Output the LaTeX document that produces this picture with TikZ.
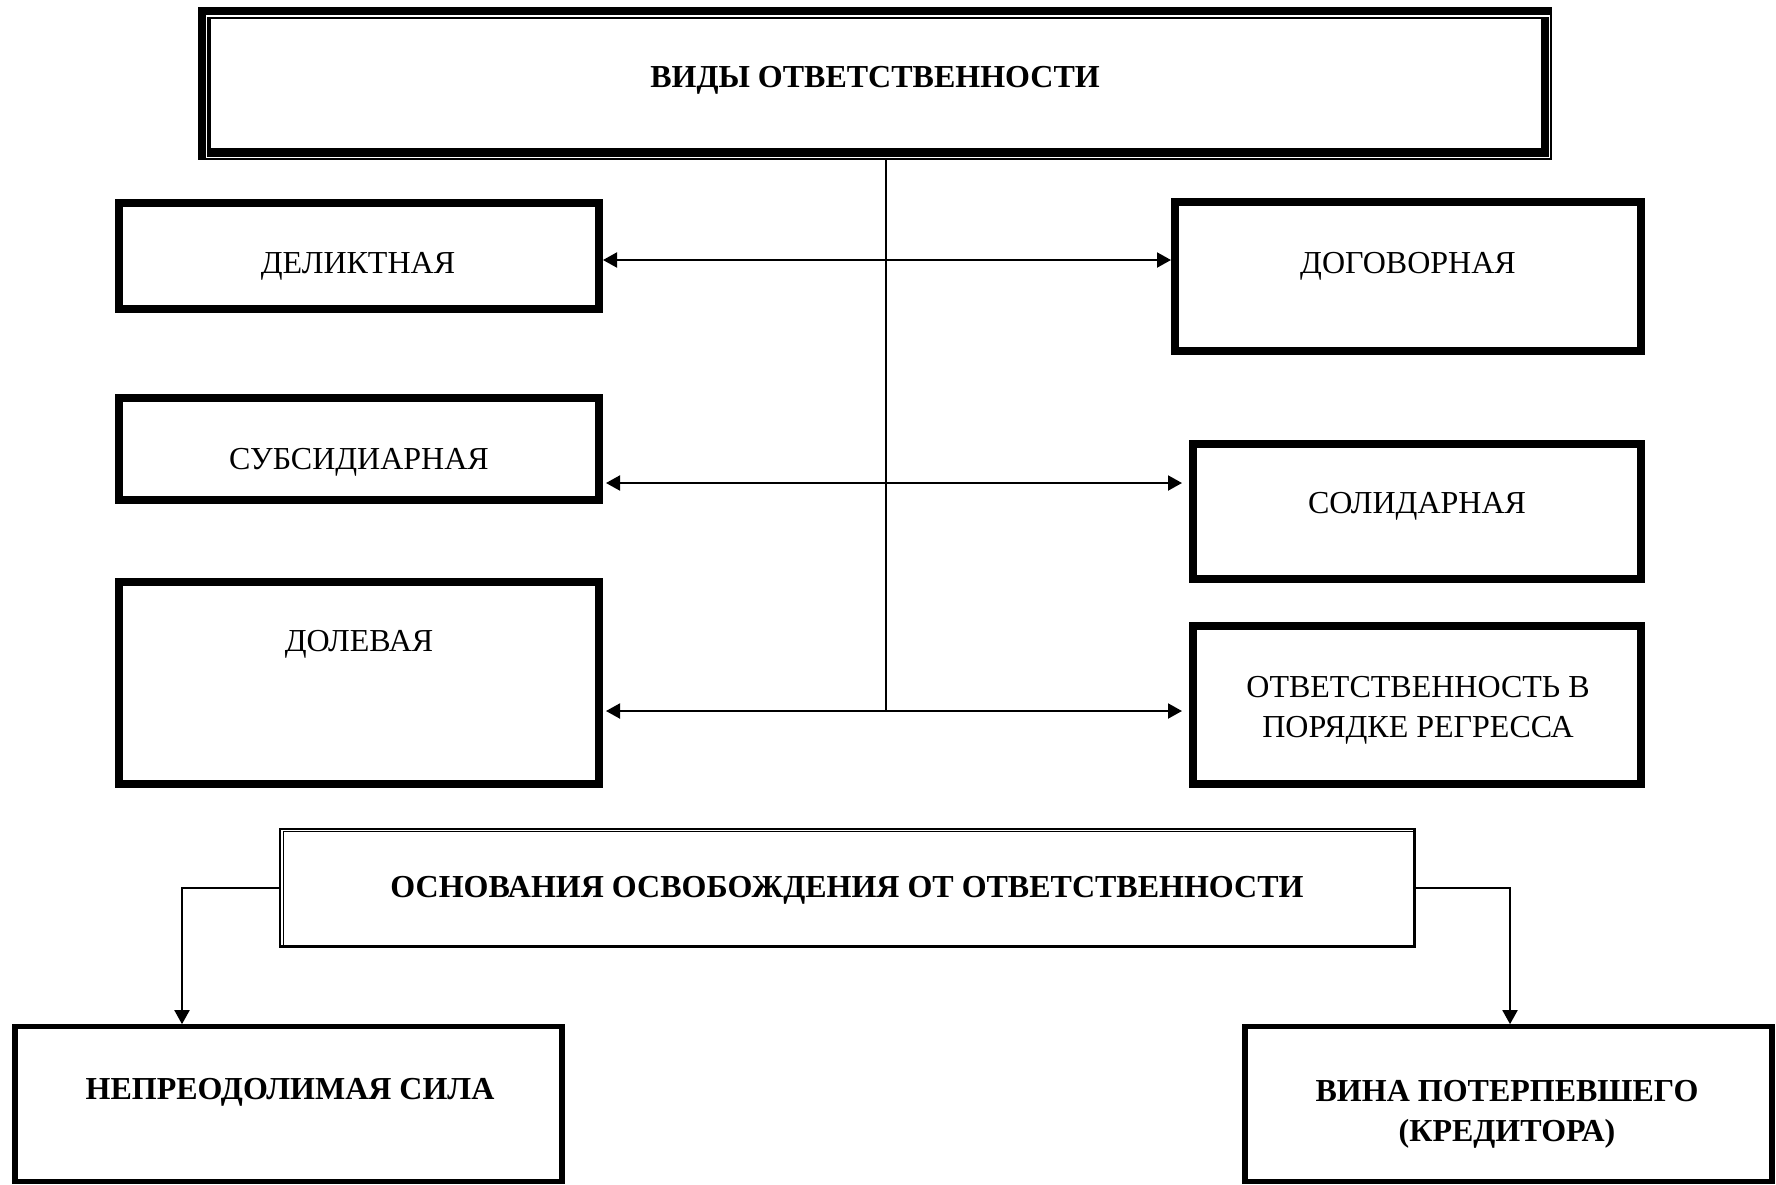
\documentclass[tikz,border=0pt]{standalone}
\usepackage{fontspec}
\setmainfont{Liberation Serif}
\usetikzlibrary{arrows.meta}
\begin{document}
\begin{tikzpicture}[x=0.5pt,y=-0.5pt,
  box/.style={draw, line width=4pt, inner sep=0pt},
  lowbox/.style={draw, line width=2.6pt, inner sep=0pt},
  lbl/.style={inner sep=0pt, anchor=base, align=center, font=\fontsize{16}{20}\selectfont},
  blbl/.style={inner sep=0pt, anchor=base, align=center, font=\fontsize{16}{20}\selectfont\bfseries},
  conn/.style={line width=1pt},
  >={Triangle[length=7pt,width=7.5pt]}]
\useasboundingbox (0,0) rectangle (1776,1184);

% top box
\node[fill=black, inner sep=0pt, outer sep=0pt, minimum width=677pt, minimum height=76.5pt] (vidbox) at (875,83.5) {};
\draw[white, line width=0.65pt] (206.6,15.9) rectangle (1549.6,157.3);
\fill[white] (210.7,19) rectangle (1541,147.7);
\node[blbl] (tvid) at (875,87) {ВИДЫ ОТВЕТСТВЕННОСТИ};

% middle boxes
\node[box, minimum width=240pt, minimum height=53pt] (delikt) at (359,256) {};
\node[box, minimum width=233pt, minimum height=74.5pt] (dogov) at (1408,276.5) {};
\node[box, minimum width=240pt, minimum height=51pt] (subs) at (359,449) {};
\node[box, minimum width=224pt, minimum height=67.5pt] (solid) at (1417,511.5) {};
\node[box, minimum width=240pt, minimum height=101pt] (dolev) at (359,683) {};
\node[box, minimum width=224pt, minimum height=79pt] (regr) at (1417,705) {};

\node[lbl] (tdel) at (358,273) {ДЕЛИКТНАЯ};
\node[lbl] (tdog) at (1408,273) {ДОГОВОРНАЯ};
\node[lbl] (tsub) at (359,469) {СУБСИДИАРНАЯ};
\node[lbl] (tsol) at (1417,513) {СОЛИДАРНАЯ};
\node[lbl] (tdol) at (359,651) {ДОЛЕВАЯ};
\node[lbl] (treg) at (1418,737) {ОТВЕТСТВЕННОСТЬ В\\ПОРЯДКЕ РЕГРЕССА};

% trunk and arrows
\coordinate (ttop) at (886,160);
\coordinate (t1) at (886,260);
\coordinate (t2) at (886,483);
\coordinate (t3) at (886,711);
\draw[conn] (ttop) -- (t3);
\draw[conn,<->] (delikt.east |- t1) -- (dogov.west |- t1);
\draw[conn,<->, shorten <=1.5pt, shorten >=3.5pt] (subs.east |- t2) -- (solid.west |- t2);
\draw[conn,<->, shorten <=1.5pt, shorten >=3.5pt] (dolev.east |- t3) -- (regr.west |- t3);

% lower part
\node[draw, line width=0.85pt, inner sep=0pt, minimum width=567.35pt, minimum height=58.85pt] (osn) at (847.35,887.85) {};
\draw[line width=0.65pt] (283.4,946) -- (283.4,831.6) -- (1413.5,831.6);
\draw[line width=1.5pt] (1414.6,829) -- (1414.6,946.6) -- (280,946.6);
\node[blbl] (tosn) at (847,897) {ОСНОВАНИЯ ОСВОБОЖДЕНИЯ ОТ ОТВЕТСТВЕННОСТИ};

\node[lowbox, minimum width=273.5pt, minimum height=77.5pt] (nepr) at (288.5,1104.25) {};
\node[lowbox, minimum width=263.5pt, minimum height=77.5pt] (vina) at (1508.5,1104.25) {};
\node[blbl] (tnep) at (290,1099) {НЕПРЕОДОЛИМАЯ СИЛА};
\node[blbl] (tvin) at (1507,1141) {ВИНА ПОТЕРПЕВШЕГО\\(КРЕДИТОРА)};

\coordinate (lx) at (182,0);
\coordinate (rx) at (1510,0);
\draw[conn,->] (osn.west) -| (nepr.north -| lx);
\draw[conn,->] (osn.east) -| (vina.north -| rx);
\end{tikzpicture}
\end{document}
